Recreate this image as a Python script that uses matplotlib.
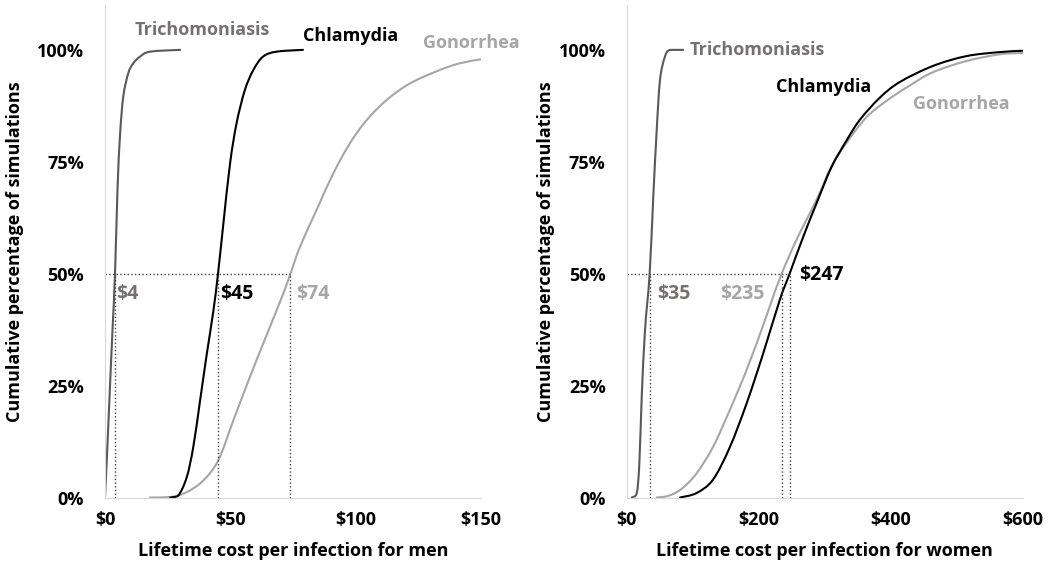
import matplotlib.pyplot as plt
from matplotlib.path import Path
from matplotlib.patches import PathPatch
from matplotlib.ticker import FuncFormatter

plt.rcParams['font.family'] = ['Open Sans', 'DejaVu Sans']
plt.rcParams['font.weight'] = 'bold'

# men: cumulative share of simulations by lifetime cost
trich_men_x = [0, 1, 2, 3, 4, 5, 6, 7.3, 9.3, 11.3, 14, 18, 30]
trich_men_y = [0, 0.12, 0.25, 0.375, 0.5, 0.69, 0.81, 0.896, 0.948, 0.97, 0.985, 0.996, 1.0]
chlam_men_x = [26, 29.2, 32.6, 35.2, 37.9, 40.6, 43.2, 45.1, 47.2, 49.9, 52.5, 55.8, 59.2,
               63.1, 68.5, 79]
chlam_men_y = [0, 0.004, 0.045, 0.112, 0.215, 0.32, 0.415, 0.5, 0.61, 0.746, 0.836, 0.91,
               0.955, 0.985, 0.996, 1.0]
gono_men_x = [17.9, 26, 32.6, 39.2, 45.2, 51.2, 57.8, 64.5, 71.1, 74, 77.8, 84.4, 91.1,
              97.7, 104.4, 112.4, 121.7, 133.6, 141.6, 150]
gono_men_y = [0, 0.001, 0.012, 0.038, 0.083, 0.172, 0.269, 0.363, 0.455, 0.5, 0.56, 0.642,
              0.724, 0.791, 0.843, 0.888, 0.925, 0.955, 0.97, 0.979]

# women
trich_wom_x = [8, 15.4, 19.4, 23, 28, 35, 40.5, 45.7, 50.7, 58.2, 65.8, 86]
trich_wom_y = [0, 0.009, 0.076, 0.225, 0.374, 0.5, 0.672, 0.821, 0.933, 0.985, 1.0, 1.0]
chlam_wom_x = [81, 106, 131, 156.6, 181.8, 207, 232, 247, 267.5, 287.7, 310.4, 333, 353,
               383.5, 413.7, 464, 514.7, 565, 600]
chlam_wom_y = [0, 0.01, 0.04, 0.113, 0.21, 0.322, 0.441, 0.5, 0.582, 0.657, 0.738, 0.797,
               0.843, 0.893, 0.928, 0.964, 0.986, 0.995, 0.998]
gono_wom_x = [45.7, 64, 84, 106, 131, 156.6, 181.8, 207, 220, 235, 257.5, 287.7, 310.4,
              333, 363, 393.6, 428.6, 464, 514.7, 565, 600]
gono_wom_y = [0, 0.004, 0.02, 0.054, 0.113, 0.196, 0.285, 0.385, 0.44, 0.5, 0.576, 0.665,
              0.74, 0.792, 0.849, 0.886, 0.92, 0.95, 0.975, 0.99, 0.993]

medians_men = [4, 45, 74]
medians_wom = [35, 235, 247]

TRICH_LINE = '#595959'
TRICH_TXT = '#767171'
CHLAM = '#000000'
GONO = '#a6a6a6'


def smooth_line(ax, xs, ys, color):
    # Excel-style smoothed line: Catmull-Rom segments drawn as cubic Beziers
    verts = [(xs[0], ys[0])]
    codes = [Path.MOVETO]
    n = len(xs)
    for i in range(n - 1):
        x0, y0 = xs[max(i - 1, 0)], ys[max(i - 1, 0)]
        x1, y1 = xs[i], ys[i]
        x2, y2 = xs[i + 1], ys[i + 1]
        x3, y3 = xs[min(i + 2, n - 1)], ys[min(i + 2, n - 1)]
        lo, hi = min(y1, y2), max(y1, y2)
        c1 = (x1 + (x2 - x0) / 6, min(max(y1 + (y2 - y0) / 6, lo), hi))
        c2 = (x2 - (x3 - x1) / 6, min(max(y2 - (y3 - y1) / 6, lo), hi))
        verts += [c1, c2, (x2, y2)]
        codes += [Path.CURVE4] * 3
    ax.add_patch(PathPatch(Path(verts, codes), facecolor='none', edgecolor=color,
                           linewidth=1.5, capstyle='round'))


def style_axes(ax, xmax, xticks, xlabel, ylab_x):
    ax.set_xlim(0, xmax)
    ax.set_ylim(0, 1.1)
    ax.set_xticks(xticks)
    ax.set_yticks([0, 0.25, 0.5, 0.75, 1.0])
    ax.xaxis.set_major_formatter(FuncFormatter(lambda v, p: '${:.0f}'.format(v)))
    ax.yaxis.set_major_formatter(FuncFormatter(lambda v, p: '{:.0f}%'.format(v * 100)))
    for s in ['top', 'right']:
        ax.spines[s].set_visible(False)
    for s in ['left', 'bottom']:
        ax.spines[s].set_color('#d9d9d9')
    ax.tick_params(axis='y', length=0, labelsize=13, pad=15)
    ax.tick_params(axis='x', length=0, labelsize=13, pad=10)
    ax.set_xlabel(xlabel, fontsize=13, fontweight='bold', labelpad=9)
    ax.set_ylabel('Cumulative percentage of simulations', fontsize=13, fontweight='bold')
    ax.yaxis.set_label_coords(ylab_x, 0.5)


def median_lines(ax, meds):
    dot = dict(color='#404040', linestyle=':', linewidth=1.0)
    ax.plot([0, max(meds)], [0.5, 0.5], **dot)
    for m in meds:
        ax.plot([m, m], [0, 0.5], **dot)


fig = plt.figure(figsize=(10.5, 5.66), dpi=100)
ax1 = fig.add_axes([0.100, 0.121, 0.358, 0.870])
ax2 = fig.add_axes([0.5967, 0.121, 0.3773, 0.870])

# men panel
median_lines(ax1, medians_men)
smooth_line(ax1, gono_men_x, gono_men_y, GONO)
smooth_line(ax1, trich_men_x, trich_men_y, TRICH_LINE)
smooth_line(ax1, chlam_men_x, chlam_men_y, CHLAM)
style_axes(ax1, 150, [0, 50, 100, 150], 'Lifetime cost per infection for men', -0.215)
ax1.text(39, 1.045, 'Trichomoniasis', color=TRICH_TXT, fontsize=13, ha='center', va='center')
ax1.text(98, 1.032, 'Chlamydia', color=CHLAM, fontsize=13, ha='center', va='center')
ax1.text(127, 1.016, 'Gonorrhea', color=GONO, fontsize=13, ha='left', va='center', clip_on=False)
ax1.text(4.6, 0.455, '$4', color=TRICH_TXT, fontsize=14, va='center')
ax1.text(45.8, 0.455, '$45', color=CHLAM, fontsize=14, va='center')
ax1.text(76.3, 0.455, '$74', color=GONO, fontsize=14, va='center')

# women panel
median_lines(ax2, medians_wom)
smooth_line(ax2, gono_wom_x, gono_wom_y, GONO)
smooth_line(ax2, trich_wom_x, trich_wom_y, TRICH_LINE)
smooth_line(ax2, chlam_wom_x, chlam_wom_y, CHLAM)
style_axes(ax2, 600, [0, 200, 400, 600], 'Lifetime cost per infection for women', -0.18)
ax2.text(95, 1.0, 'Trichomoniasis', color=TRICH_TXT, fontsize=13, ha='left', va='center')
ax2.text(227, 0.917, 'Chlamydia', color=CHLAM, fontsize=13, ha='left', va='center')
ax2.text(434, 0.88, 'Gonorrhea', color=GONO, fontsize=13, ha='left', va='center')
ax2.text(46, 0.455, '$35', color=TRICH_TXT, fontsize=14, va='center')
ax2.text(142, 0.455, '$235', color=GONO, fontsize=14, va='center')
ax2.text(261, 0.497, '$247', color=CHLAM, fontsize=14, va='center')

fig.savefig('out.png', dpi=100)
